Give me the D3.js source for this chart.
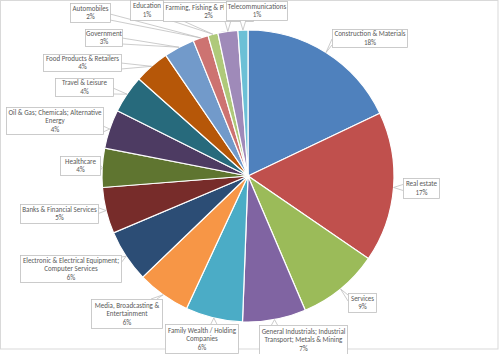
<!DOCTYPE html>
<html>
<head>
<meta charset="utf-8">
<script src="https://cdn.jsdelivr.net/npm/d3@7"></script>
<style>
  body { margin: 0; background: #fff; }
  svg { display: block; }
  .lbl text { font-family: Carlito, Calibri, Lato, sans-serif; font-size: 7px; fill: #595959; }
</style>
</head>
<body>
<script>
'use strict';
// sectors (clockwise from 12 o'clock)
const sectors = [
  'Construction & Materials', 'Real estate', 'Services',
  'General Industrials; Industrial Transport; Metals & Mining',
  'Family Wealth / Holding Companies', 'Media, Broadcasting & Entertainment',
  'Electronic & Electrical Equipment; Computer Services',
  'Banks & Financial Services', 'Healthcare',
  'Oil & Gas; Chemicals; Alternative Energy', 'Travel & Leisure',
  'Food Products & Retailers', 'Government', 'Automobiles', 'Education',
  'Farming, Fishing & Plantations', 'Telecommunications'
];
// share in %
const shares = [17.9, 16.6, 9.0, 7.0, 6.3, 5.9, 5.8, 5.1, 4.3, 4.3, 4.2, 3.9, 3.4, 1.7, 1.1, 2.2, 1.1];
const colors = ['#4f81bd', '#c0504d', '#9bbb59', '#8064a2', '#4bacc6', '#f79646', '#2c4d75',
  '#772c2a', '#5f7530', '#4d3b62', '#276a7c', '#b65708', '#729aca', '#cd7371', '#afc97a',
  '#9f8ab9', '#6cc0d6'];

// callout boxes [x, y, w, h] and words on the first line (0 = one line) - layout only
const boxes = [
  [332, 29, 75, 18], [403, 178, 36, 20], [348, 293, 28, 19], [259, 325, 88, 29],
  [165, 324, 73, 29], [91, 299, 71, 29], [20, 255, 101, 27], [20, 204, 78, 19],
  [60, 156, 40, 19], [6, 107, 97, 27], [55, 78, 58, 18], [43, 54, 78, 17],
  [85, 29, 37, 17], [70, 3, 40, 19], [130, 0, 33, 20], [163, 2, 90, 19], [226, 1, 61, 19]
];
const firstLineWords = [0, 0, 0, 3, 4, 3, 4, 0, 0, 5, 0, 0, 0, 0, 0, 0, 0];

const W = 500, H = 354;
const cx = 248, cy = 176, R = 146;

const svg = d3.select(document.body).append('svg')
  .attr('width', W).attr('height', H);

svg.append('rect')
  .attr('x', 0.5).attr('y', 0.5).attr('width', 497.5).attr('height', 348.5)
  .attr('fill', '#fff').attr('stroke', '#d9d9d9');

const total = d3.sum(shares);
const pie = d3.pie().sort(null).value(d => d)(shares);
const arc = d3.arc().innerRadius(0).outerRadius(R);

svg.append('g')
  .attr('transform', `translate(${cx},${cy})`)
  .selectAll('path')
  .data(pie)
  .enter().append('path')
  .attr('d', arc)
  .attr('fill', (d, i) => colors[i])
  .attr('stroke', '#fff')
  .attr('stroke-width', 1.2);

// callout labels
const lbl = svg.append('g').attr('class', 'lbl');
const defs = svg.append('defs');

pie.forEach((d, i) => {
  const [bx, by, bw, bh] = boxes[i];
  const mid = (d.startAngle + d.endAngle) / 2;
  const tx = cx + R * Math.sin(mid), ty = cy - R * Math.cos(mid);
  // wedge base on the box edge nearest the tip
  let ax, ay, p1, p2;
  const clx = Math.max(bx, Math.min(bx + bw, tx));
  const cly = Math.max(by, Math.min(by + bh, ty));
  const dxo = tx < bx ? bx - tx : tx > bx + bw ? tx - bx - bw : 0;
  const dyo = ty < by ? by - ty : ty > by + bh ? ty - by - bh : 0;
  if (dxo > dyo) {
    ax = clx; ay = Math.max(by + 5, Math.min(by + bh - 5, ty));
    p1 = [ax, ay - 3]; p2 = [ax, ay + 3];
  } else {
    ay = cly; ax = Math.max(bx + 8, Math.min(bx + bw - 8, tx));
    p1 = [ax - 3, ay]; p2 = [ax + 3, ay];
  }
  const g = lbl.append('g');
  g.append('path')
    .attr('d', d3.line()([p1, [tx, ty], p2]))
    .attr('fill', '#fff').attr('stroke', '#bfbfbf').attr('stroke-width', 0.8);
  g.append('rect')
    .attr('x', bx + 0.5).attr('y', by + 0.5).attr('width', bw).attr('height', bh)
    .attr('fill', '#fff').attr('stroke', '#bfbfbf').attr('stroke-width', 0.8);

  // the next callout box sits on top of this one -> clip its text
  const nb = boxes[i + 1];
  let clipW = bw + 2;
  if (nb && nb[0] > bx && nb[0] < bx + bw && nb[1] < by + bh && nb[1] + nb[3] > by) {
    clipW = nb[0] - bx - 1;
  }
  defs.append('clipPath').attr('id', 'clip' + i)
    .append('rect').attr('x', bx - 1).attr('y', by - 2).attr('width', clipW).attr('height', bh + 8);

  const words = sectors[i].split(' ');
  const n = firstLineWords[i];
  const lines = n ? [words.slice(0, n).join(' '), words.slice(n).join(' ')] : [sectors[i]];
  lines.push(Math.round(shares[i] / total * 100) + '%');
  const lh = 8.5;
  const y0 = by + bh / 2 - (lines.length - 1) * lh / 2 + 2.6;
  g.append('g').attr('clip-path', `url(#clip${i})`)
    .selectAll('text').data(lines).enter().append('text')
    .attr('x', bx + bw / 2 + 0.5)
    .attr('y', (s, k) => y0 + k * lh)
    .attr('text-anchor', 'middle')
    .text(s => s);
});
</script>
</body>
</html>
